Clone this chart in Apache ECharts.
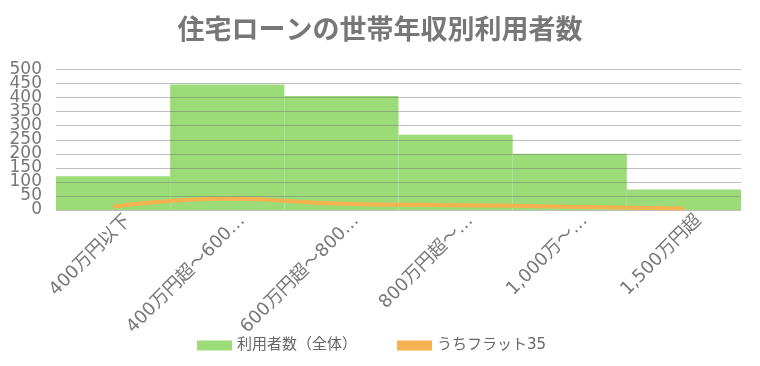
<!DOCTYPE html>
<html><head><meta charset="utf-8">
<script src="https://cdn.jsdelivr.net/npm/echarts@6/dist/echarts.min.js"></script>
<style>html,body{margin:0;padding:0;background:#fff}#c{width:760px;height:366px}</style>
</head><body><div id="c"></div>
<script>
const titleText = '住宅ローンの世帯年収別利用者数';
const categories = ['400万円以下', '400万円超～600…', '600万円超～800…', '800万円超～…', '1,000万～…', '1,500万円超'];
const totalUsers = [120, 447, 406, 268, 200, 73];
const flat35Users = [12, 40, 22, 17, 12, 5];
const seriesNames = ['利用者数（全体）', 'うちフラット35'];
const yTicks = { min: 0, max: 500, interval: 50 };

const FONT = '"DejaVu Sans", "Noto Sans CJK JP", sans-serif';
const yLabelBase = { margin: 14, fontFamily: FONT, fontSize: 17, color: '#777',
  showMinLabel: true, showMaxLabel: true };
const chart = echarts.init(document.getElementById('c'), null, { renderer: 'canvas' });
chart.setOption({
  animation: false,
  title: {
    text: titleText, left: 'center', top: 13,
    textStyle: { fontFamily: FONT, fontSize: 27, fontWeight: 'bold', color: '#777' }
  },
  legend: {
    bottom: 8, left: 192, itemWidth: 35, itemHeight: 10, itemGap: 40,
    icon: 'rect',
    textStyle: { fontFamily: FONT, fontSize: 15, color: '#666' },
    data: seriesNames
  },
  grid: { left: 56, right: 19, top: 69.5, bottom: 156, containLabel: false },
  xAxis: {
    type: 'category', data: categories,
    axisLine: { show: false }, axisTick: { show: false },
    axisLabel: { rotate: 45, margin: -7, verticalAlign: 'top', lineHeight: 42,
      fontFamily: FONT, fontSize: 18, color: '#777', interval: 0 }
  },
  yAxis: [
    {
      type: 'value', min: yTicks.min, max: yTicks.max, interval: yTicks.interval, z: 3,
      axisLine: { show: false }, axisTick: { show: false },
      axisLabel: Object.assign({}, yLabelBase, {
        formatter: v => (v % 100 === 0 ? String(v) : '') }),
      splitLine: { lineStyle: { color: 'rgba(110,110,110,0.45)', width: 1 } }
    },
    {
      type: 'value', position: 'left', offset: 0,
      min: yTicks.min, max: yTicks.max, interval: yTicks.interval, z: 3,
      axisLine: { show: false }, axisTick: { show: false }, splitLine: { show: false },
      axisLabel: Object.assign({}, yLabelBase, {
        formatter: v => (v % 100 !== 0 ? String(v) : '') })
    }
  ],
  series: [
    { name: seriesNames[0], type: 'bar', data: totalUsers, barWidth: '100%', barCategoryGap: 0, z: 2,
      yAxisIndex: 0, itemStyle: { color: '#9cdc78' } },
    { name: seriesNames[1], type: 'line', data: flat35Users, smooth: true, symbol: 'none', z: 5,
      yAxisIndex: 0, lineStyle: { color: '#f4b350', width: 4 }, itemStyle: { color: '#f4b350' } }
  ]
});
</script></body></html>
